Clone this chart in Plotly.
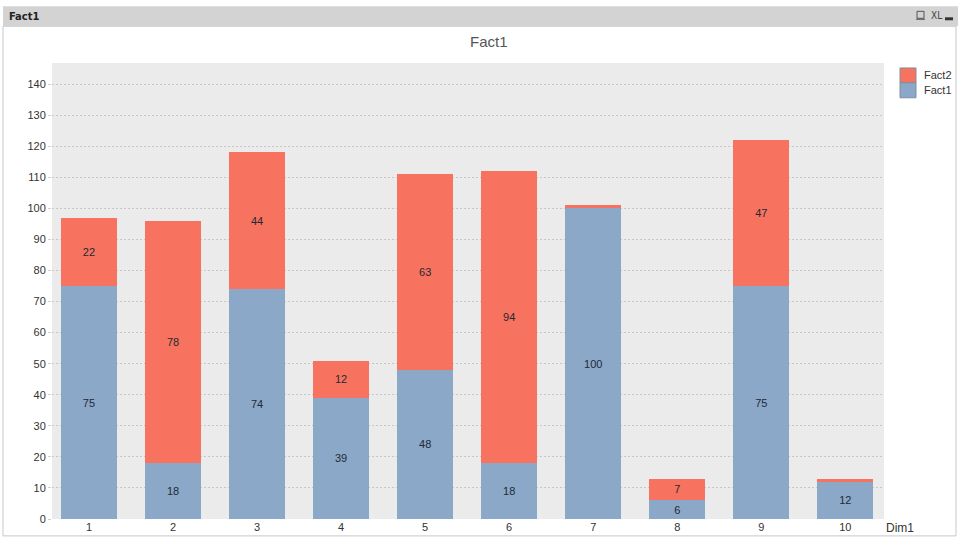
import plotly.graph_objects as go

dims = [1, 2, 3, 4, 5, 6, 7, 8, 9, 10]
fact1 = [75, 18, 74, 39, 48, 18, 100, 6, 75, 12]
fact2 = [22, 78, 44, 12, 63, 94, 1, 7, 47, 1]
y_ticks = list(range(0, 150, 10))

W, H = 958, 545
L, R, T, B = 52, 884, 63, 522  # plot area in pixels


def px(x):
    return (x - L) / (R - L)


def py(y):
    return (B - y) / (B - T)


def lbl(vals):
    return [str(v) if v >= 5 else "" for v in vals]


fig = go.Figure()
fig.add_trace(go.Bar(x=dims, y=fact1, name="Fact1", marker_color="#8ba8c8",
                     marker_line_width=0, text=lbl(fact1), textposition="inside",
                     insidetextanchor="middle", textangle=0,
                     textfont=dict(size=11, color="#222a35"), width=0.667))
fig.add_trace(go.Bar(x=dims, y=fact2, name="Fact2", marker_color="#f8735f",
                     marker_line_width=0, text=lbl(fact2), textposition="inside",
                     insidetextanchor="middle", textangle=0,
                     textfont=dict(size=11, color="#222a35"), width=0.667))

shapes = [
    # outer window frame
    dict(type="rect", xref="paper", yref="paper", x0=px(3), x1=px(956), y0=py(539), y1=py(26),
         line=dict(color="#c8c8c8", width=1), fillcolor="rgba(0,0,0,0)", layer="below"),
    # caption bar
    dict(type="rect", xref="paper", yref="paper", x0=px(3), x1=px(958), y0=py(26), y1=py(6),
         line=dict(width=0), fillcolor="#d3d3d3", layer="below"),
    # printer icon
    dict(type="rect", xref="paper", yref="paper", x0=px(917), x1=px(924), y0=py(18), y1=py(11),
         line=dict(color="#555555", width=1), fillcolor="rgba(0,0,0,0)"),
    dict(type="line", xref="paper", yref="paper", x0=px(916), x1=px(925), y0=py(19), y1=py(19),
         line=dict(color="#555555", width=1)),
    # minimize icon
    dict(type="rect", xref="paper", yref="paper", x0=px(945), x1=px(953), y0=py(20), y1=py(17),
         line=dict(width=0), fillcolor="#333333"),
    # legend swatches
    dict(type="rect", xref="paper", yref="paper", x0=px(900), x1=px(916), y0=py(83), y1=py(68),
         line=dict(color="#7f8fa0", width=1), fillcolor="#f8735f"),
    dict(type="rect", xref="paper", yref="paper", x0=px(900), x1=px(916), y0=py(98), y1=py(83),
         line=dict(color="#7f8fa0", width=1), fillcolor="#8ba8c8"),
]

annotations = [
    dict(text="<b>Fact1</b>", xref="paper", yref="paper", x=px(7), y=py(16), xanchor="left",
         yanchor="middle", showarrow=False, font=dict(size=11, color="#222222", family="DejaVu Sans Condensed")),
    dict(text="XL", xref="paper", yref="paper", x=px(929), y=py(15), xanchor="left",
         yanchor="middle", showarrow=False, font=dict(size=10, color="#444444", family="DejaVu Sans Condensed")),
    dict(text="Fact1", xref="paper", yref="paper", x=px(489), y=py(41), xanchor="center",
         yanchor="middle", showarrow=False, font=dict(size=15, color="#555555")),
    dict(text="Fact2", xref="paper", yref="paper", x=px(922), y=py(75), xanchor="left",
         yanchor="middle", showarrow=False, font=dict(size=11, color="#333333")),
    dict(text="Fact1", xref="paper", yref="paper", x=px(922), y=py(90), xanchor="left",
         yanchor="middle", showarrow=False, font=dict(size=11, color="#333333")),
    dict(text="Dim1", xref="paper", yref="paper", x=px(884), y=py(531), xanchor="left",
         yanchor="middle", showarrow=False, font=dict(size=12, color="#333333")),
]

fig.update_layout(
    barmode="stack",
    width=W, height=H,
    margin=dict(l=L, r=W - R, t=T, b=H - B, pad=0),
    paper_bgcolor="white",
    plot_bgcolor="#ebebeb",
    font=dict(family="Arial, Liberation Sans, sans-serif", size=11, color="#333333"),
    showlegend=False,
    shapes=shapes,
    annotations=annotations,
)
fig.update_xaxes(range=[0.56, 10.46], tickmode="array", tickvals=dims,
                 ticktext=[str(d) for d in dims], showgrid=False, zeroline=False,
                 showline=False, ticks="", tickfont=dict(size=11, color="#333333"))
fig.update_yaxes(range=[0, 146.8], tickmode="array", tickvals=y_ticks,
                 showgrid=True, gridcolor="#c6c6c6", griddash="2px,2px", gridwidth=1,
                 zeroline=False, showline=False, ticks="outside", ticklen=3,
                 tickcolor="#d0d0d0", tickfont=dict(size=11, color="#333333"))

fig.write_html("out.html", config={"displayModeBar": False, "responsive": False},
               default_width=f"{W}px", default_height=f"{H}px",
               post_script="document.body.style.margin='0';document.body.style.overflow='hidden';")
